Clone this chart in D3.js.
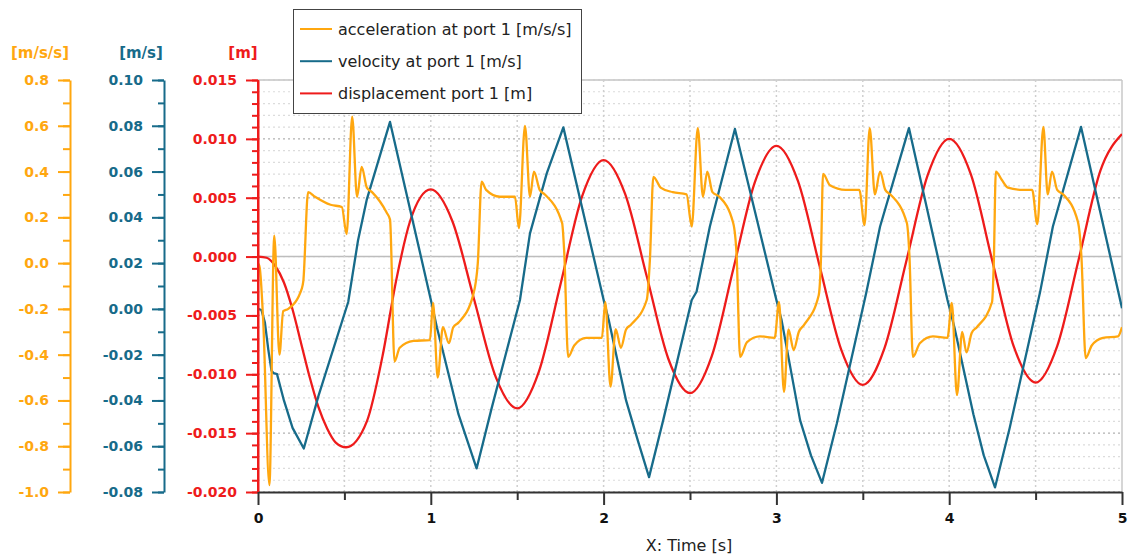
<!DOCTYPE html>
<html>
<head>
<meta charset="utf-8">
<script src="https://cdn.jsdelivr.net/npm/d3@7"></script>
<style>
  body { margin: 0; background: #fff; }
  svg { display: block; }
</style>
</head>
<body>
<svg width="1130" height="557"></svg>
<script>
// series, time in seconds
const accTime = [
  0.000, 0.010, 0.030, 0.066, 0.094, 0.124, 0.146, 0.175, 0.254, 0.262, 0.290, 0.330, 0.420, 0.485, 0.513, 0.545, 0.573, 0.600, 0.630, 0.660, 0.745, 0.764, 0.790, 0.820, 0.900, 0.995,
  1.013, 1.040, 1.070, 1.105, 1.130, 1.160, 1.245, 1.272, 1.294, 1.320, 1.400, 1.487, 1.510, 1.545, 1.574, 1.597, 1.630, 1.660, 1.760, 1.772, 1.795, 1.830, 1.900, 1.990,
  2.010, 2.040, 2.070, 2.100, 2.130, 2.157, 2.250, 2.268, 2.288, 2.330, 2.400, 2.480, 2.510, 2.545, 2.575, 2.600, 2.630, 2.670, 2.750, 2.770, 2.790, 2.830, 2.905, 2.990,
  3.015, 3.044, 3.070, 3.100, 3.130, 3.160, 3.245, 3.257, 3.270, 3.310, 3.400, 3.480, 3.510, 3.540, 3.570, 3.600, 3.630, 3.660, 3.755, 3.770, 3.790, 3.830, 3.906, 3.990,
  4.015, 4.045, 4.075, 4.100, 4.130, 4.160, 4.248, 4.258, 4.270, 4.305, 4.340, 4.430, 4.480, 4.510, 4.545, 4.570, 4.595, 4.625, 4.660, 4.745, 4.765, 4.790, 4.825, 4.890, 4.977, 5.000
];
const accValues = [
  0.00, -0.02, -0.25, -0.97, 0.12, -0.40, -0.21, -0.20, -0.11, -0.08, 0.31, 0.29, 0.255, 0.245, 0.127, 0.64, 0.29, 0.42, 0.33, 0.31, 0.22, 0.19, -0.43, -0.37, -0.34, -0.336,
  -0.174, -0.50, -0.28, -0.35, -0.28, -0.26, -0.14, 0.00, 0.356, 0.32, 0.29, 0.29, 0.153, 0.60, 0.29, 0.40, 0.32, 0.30, 0.175, 0.05, -0.41, -0.36, -0.327, -0.327,
  -0.17, -0.54, -0.288, -0.37, -0.29, -0.27, -0.16, 0.015, 0.377, 0.33, 0.31, 0.30, 0.16, 0.59, 0.29, 0.40, 0.31, 0.29, 0.175, 0.03, -0.41, -0.345, -0.32, -0.327,
  -0.17, -0.563, -0.29, -0.38, -0.30, -0.27, -0.14, 0.00, 0.39, 0.34, 0.32, 0.32, 0.166, 0.59, 0.30, 0.40, 0.32, 0.30, 0.175, 0.03, -0.41, -0.35, -0.32, -0.327,
  -0.174, -0.576, -0.30, -0.39, -0.305, -0.28, -0.17, 0.00, 0.40, 0.363, 0.33, 0.32, 0.32, 0.17, 0.595, 0.30, 0.40, 0.32, 0.30, 0.18, 0.03, -0.415, -0.36, -0.327, -0.32, -0.28
];

const velTime = [
  0.000, 0.020, 0.040, 0.060, 0.078, 0.090, 0.110, 0.150, 0.200, 0.265, 0.350, 0.522, 0.579, 0.629, 0.764,
  1.005, 1.035, 1.073, 1.160, 1.265, 1.350, 1.516, 1.574, 1.671, 1.767,
  2.000, 2.030, 2.130, 2.200, 2.263, 2.345, 2.510, 2.538, 2.615, 2.760,
  3.000, 3.030, 3.137, 3.200, 3.264, 3.350, 3.520, 3.600, 3.767,
  3.990, 4.030, 4.140, 4.200, 4.265, 4.350, 4.525, 4.600, 4.763, 5.000
];
const velValues = [
  0.000, -0.0005, -0.006, -0.018, -0.027, -0.028, -0.0285, -0.040, -0.052, -0.061, -0.038, 0.003, 0.030, 0.0476, 0.0817,
  0.0024, -0.008, -0.0194, -0.046, -0.0697, -0.044, 0.0039, 0.033, 0.0592, 0.0793,
  0.004, -0.005, -0.040, -0.058, -0.0735, -0.0486, 0.0039, 0.0075, 0.036, 0.0786,
  0.0039, -0.0049, -0.0486, -0.064, -0.076, -0.050, 0.007, 0.036, 0.079,
  0.0039, -0.008, -0.046, -0.064, -0.078, -0.052, 0.007, 0.036, 0.0795, 0.0003
];

const dispTime = [
  0.00, 0.05, 0.10, 0.15, 0.20, 0.25, 0.30, 0.35, 0.40, 0.45, 0.51, 0.63, 0.72, 0.80, 0.88, 1.00,
  1.125, 1.25, 1.375, 1.50, 1.625, 1.75, 1.875, 2.00,
  2.125, 2.25, 2.375, 2.50, 2.625, 2.75, 2.875, 3.00,
  3.125, 3.25, 3.375, 3.50, 3.625, 3.75, 3.875, 4.00,
  4.125, 4.25, 4.375, 4.50, 4.625, 4.75, 4.875, 5.00
];
const dispValues = [
  0.0000, -0.0001, -0.0008, -0.0022, -0.0045, -0.0074, -0.0103, -0.0128, -0.0146, -0.0158, -0.0162, -0.0140, -0.0085, -0.0020, 0.0030, 0.0057,
  0.0030, -0.0036, -0.0102, -0.0129, -0.0098, -0.0024, 0.0051, 0.0082,
  0.0053, -0.0017, -0.0087, -0.0116, -0.0085, -0.0011, 0.0063, 0.0094,
  0.0064, -0.0008, -0.0079, -0.0109, -0.0078, -0.0005, 0.0069, 0.0100,
  0.0070, -0.0004, -0.0077, -0.0107, -0.0076, -0.0002, 0.0073, 0.0104
];

// tick labels
const timeTicks = [0, 1, 2, 3, 4, 5];
const accTicks = [-1.0, -0.8, -0.6, -0.4, -0.2, 0.0, 0.2, 0.4, 0.6, 0.8];
const velTicks = [-0.08, -0.06, -0.04, -0.02, 0.00, 0.02, 0.04, 0.06, 0.08, 0.10];
const dispTicks = [-0.020, -0.015, -0.010, -0.005, 0.000, 0.005, 0.010, 0.015];

const legendNames = [
  'acceleration at port 1 [m/s/s]',
  'velocity at port 1 [m/s]',
  'displacement port 1 [m]'
];
const unitNames = ['[m/s/s]', '[m/s]', '[m]'];

const orange = '#ffa70f';
const teal = '#176b8a';
const red = '#ee1b1b';

const svg = d3.select('svg');
const plot = { left: 258, right: 1122, top: 80, bottom: 492 };

const x = d3.scaleLinear().domain([0, 5]).range([plot.left, plot.right]);
const yAcc = d3.scaleLinear().domain([-1.0, 0.8]).range([plot.bottom, plot.top]);
const yVel = d3.scaleLinear().domain([-0.08, 0.10]).range([plot.bottom, plot.top]);
const yDisp = d3.scaleLinear().domain([-0.020, 0.015]).range([plot.bottom, plot.top]);

const minus = s => s.replace('\u2212', '-');

// grid
const grid = svg.append('g');
grid.selectAll('line.minor')
  .data(yDisp.ticks(35))
  .enter()
  .append('line')
  .attr('x1', plot.left)
  .attr('x2', plot.right)
  .attr('y1', d => yDisp(d))
  .attr('y2', d => yDisp(d))
  .attr('stroke', '#dcdcdc')
  .attr('stroke-width', 1.2)
  .attr('stroke-dasharray', '2,3');
grid.selectAll('line.major')
  .data(dispTicks)
  .enter()
  .append('line')
  .attr('x1', plot.left)
  .attr('x2', plot.right)
  .attr('y1', d => yDisp(d))
  .attr('y2', d => yDisp(d))
  .attr('stroke', d => (d === 0 ? '#bdbdbd' : '#c4c4c4'))
  .attr('stroke-width', d => (d === 0 ? 1.5 : 1.5))
  .attr('stroke-dasharray', d => (d === 0 || d === 0.015 ? null : '2,3'));
grid.selectAll('line.vert')
  .data(x.ticks(10).filter(d => d > 0 && d < 5))
  .enter()
  .append('line')
  .attr('x1', d => x(d))
  .attr('x2', d => x(d))
  .attr('y1', plot.top)
  .attr('y2', plot.bottom)
  .attr('stroke', '#cfcfcf')
  .attr('stroke-width', 1.5)
  .attr('stroke-dasharray', '2,3');
grid.append('line')
  .attr('x1', plot.right).attr('x2', plot.right)
  .attr('y1', plot.top).attr('y2', plot.bottom)
  .attr('stroke', '#c8c8c8').attr('stroke-width', 1.5);

// curves
svg.append('clipPath').attr('id', 'clip')
  .append('rect')
  .attr('x', plot.left).attr('y', plot.top - 2)
  .attr('width', plot.right - plot.left).attr('height', plot.bottom - plot.top + 4);

const curves = svg.append('g').attr('clip-path', 'url(#clip)');

function drawSeries(times, values, yScale, color, curve) {
  const line = d3.line()
    .x((d, i) => x(times[i]))
    .y(d => yScale(d))
    .curve(curve);
  curves.append('path')
    .datum(values)
    .attr('d', line)
    .attr('fill', 'none')
    .attr('stroke', color)
    .attr('stroke-width', 2.3)
    .attr('stroke-linejoin', 'round');
}

drawSeries(dispTime, dispValues, yDisp, red, d3.curveMonotoneX);
drawSeries(velTime, velValues, yVel, teal, d3.curveLinear);
drawSeries(accTime, accValues, yAcc, orange, d3.curveMonotoneX);

// y axes
function yAxis(scale, xPos, ticks, minorTicks, fmt, color, minorSize) {
  const g = svg.append('g').attr('transform', `translate(${xPos},0)`);
  g.call(d3.axisLeft(scale).tickValues(minorTicks).tickSize(minorSize).tickFormat(''))
    .call(s => s.select('.domain').remove());
  g.append('g')
    .call(d3.axisLeft(scale).tickValues(ticks).tickSize(12).tickSizeOuter(0)
      .tickPadding(9).tickFormat(d => minus(fmt(d))));
  g.selectAll('line').attr('stroke', color).attr('stroke-width', 2);
  g.selectAll('.domain').attr('stroke', color).attr('stroke-width', 2);
  g.selectAll('text')
    .attr('fill', color)
    .style('font-family', '"DejaVu Sans", sans-serif')
    .style('font-size', '14px')
    .style('font-weight', 'bold');
}

yAxis(yAcc, 70, accTicks, yAcc.ticks(18), d3.format('.1f'), orange, 7);
yAxis(yVel, 164, velTicks, yVel.ticks(18), d3.format('.2f'), teal, 6);
yAxis(yDisp, plot.left, dispTicks, yDisp.ticks(35), d3.format('.3f'), red, 6);

// unit headers
svg.selectAll('text.unit')
  .data(unitNames)
  .enter()
  .append('text')
  .attr('x', (d, i) => [40, 141, 243][i])
  .attr('y', 58)
  .attr('text-anchor', 'middle')
  .attr('fill', (d, i) => [orange, teal, red][i])
  .style('font-family', '"DejaVu Sans", sans-serif')
  .style('font-size', '15px')
  .style('font-weight', 'bold')
  .text(d => d);

// x axis
const xg = svg.append('g').attr('transform', `translate(0,${plot.bottom})`);
xg.call(d3.axisBottom(x).tickValues(x.ticks(10).filter(d => d % 1 !== 0)).tickSize(8).tickFormat(''))
  .call(s => s.select('.domain').remove());
xg.append('g')
  .call(d3.axisBottom(x).tickValues(timeTicks).tickSize(13).tickSizeOuter(0).tickPadding(8)
    .tickFormat(d3.format('d')));
xg.selectAll('line').attr('stroke', '#333').attr('stroke-width', 2);
xg.selectAll('.domain').attr('stroke', '#333').attr('stroke-width', 2);
xg.selectAll('text')
  .attr('fill', '#111')
  .style('font-family', '"DejaVu Sans", sans-serif')
  .style('font-size', '14px')
  .style('font-weight', 'bold');

svg.append('text')
  .attr('x', 689)
  .attr('y', 551)
  .attr('text-anchor', 'middle')
  .attr('fill', '#222')
  .style('font-family', '"DejaVu Sans", sans-serif')
  .style('font-size', '16px')
  .text('X: Time [s]');

// red axis line drawn on top of the x axis corner
svg.append('line')
  .attr('x1', plot.left).attr('x2', plot.left)
  .attr('y1', plot.top).attr('y2', plot.bottom)
  .attr('stroke', red).attr('stroke-width', 2);

// legend
const legend = svg.append('g');
legend.append('rect')
  .attr('x', 293.5).attr('y', 9.5)
  .attr('width', 288).attr('height', 104)
  .attr('fill', '#fff')
  .attr('stroke', '#444')
  .attr('stroke-width', 1);
const items = legend.selectAll('g.item')
  .data(legendNames)
  .enter()
  .append('g')
  .attr('transform', (d, i) => `translate(300,${29 + i * 32.2})`);
items.append('line')
  .attr('x1', 0).attr('x2', 32)
  .attr('stroke', (d, i) => [orange, teal, red][i])
  .attr('stroke-width', 2);
items.append('text')
  .attr('x', 38)
  .attr('dy', '0.35em')
  .attr('fill', '#222')
  .style('font-family', '"DejaVu Sans", sans-serif')
  .style('font-size', '16px')
  .text(d => d);
</script>
</body>
</html>
